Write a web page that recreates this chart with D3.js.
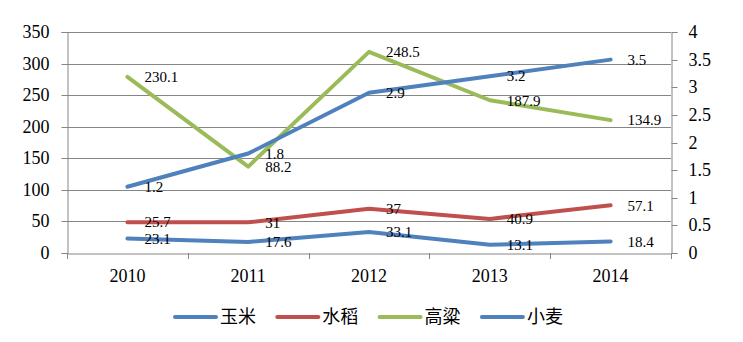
<!DOCTYPE html>
<html>
<head>
<meta charset="utf-8">
<script src="https://cdn.jsdelivr.net/npm/d3@7/dist/d3.min.js"></script>
<style>
  html, body { margin: 0; padding: 0; background: #fff; }
  svg { display: block; }
</style>
</head>
<body>
<svg id="chart" width="743" height="342"></svg>
<script>
// Years on the category axis
const years = ["2010", "2011", "2012", "2013", "2014"];

// 玉米 plotted on the secondary (right) axis
const yumi = [1.2, 1.8, 2.9, 3.2, 3.5];
// Stacked-line series on the primary (left) axis, bottom to top
const xiaomai = [23.1, 17.6, 33.1, 13.1, 18.4];
const shuidao = [25.7, 31, 37, 40.9, 57.1];
const gaoliang = [230.1, 88.2, 248.5, 187.9, 134.9];

const leftTicks = [0, 50, 100, 150, 200, 250, 300, 350];
const rightTicks = [0, 0.5, 1, 1.5, 2, 2.5, 3, 3.5, 4];
const legendNames = ["玉米", "水稻", "高粱", "小麦"];

const colors = { yumi: "#4F81BD", shuidao: "#C0504D", gaoliang: "#9BBB59", xiaomai: "#4F81BD" };

const svg = d3.select("#chart");
const plot = { left: 67, right: 671, top: 32, bottom: 253 };
const serif = "'Liberation Serif', 'Times New Roman', serif";
const gridColor = "#868686";

const x = d3.scaleBand().domain(years).range([plot.left, plot.right]);
const yL = d3.scaleLinear().domain([0, 350]).range([plot.bottom, plot.top]);
const yR = d3.scaleLinear().domain([0, 4]).range([plot.bottom, plot.top]);

// Gridlines
svg.append("g").selectAll("line").data(leftTicks.slice(1)).join("line")
  .attr("x1", plot.left).attr("x2", plot.right)
  .attr("y1", d => Math.round(yL(d)) + 0.5).attr("y2", d => Math.round(yL(d)) + 0.5)
  .attr("stroke", gridColor).attr("stroke-width", 1);

// Left axis
const leftAxis = svg.append("g")
  .attr("transform", `translate(${plot.left + 0.5},0)`)
  .call(d3.axisLeft(yL).tickValues(leftTicks).tickSize(6).tickPadding(12).tickFormat(d3.format("d")));
// Right axis
const rightAxis = svg.append("g")
  .attr("transform", `translate(${plot.right + 0.5},0)`)
  .call(d3.axisRight(yR).tickValues(rightTicks).tickSize(6).tickPadding(11).tickFormat(d => String(d)));
// Bottom axis with ticks at category boundaries
const bottomAxis = svg.append("g")
  .attr("transform", `translate(0,${plot.bottom + 0.5})`)
  .call(d3.axisBottom(x).tickSize(0).tickPadding(16));

[leftAxis, rightAxis, bottomAxis].forEach(g => {
  g.select(".domain").attr("stroke", gridColor);
  g.selectAll(".tick line").attr("stroke", gridColor);
  g.selectAll("text").attr("font-family", serif).attr("font-size", 18).attr("fill", "#000");
});
leftAxis.selectAll(".tick").attr("transform", d => `translate(0,${Math.round(yL(d)) + 0.5})`);
rightAxis.selectAll(".tick").attr("transform", d => `translate(0,${Math.round(yR(d)) + 0.5})`);

const bounds = years.map(y => x(y)).concat([plot.right]);
svg.append("g").selectAll("line").data(bounds).join("line")
  .attr("x1", d => Math.round(d) + 0.5).attr("x2", d => Math.round(d) + 0.5)
  .attr("y1", plot.bottom).attr("y2", plot.bottom + 6)
  .attr("stroke", gridColor);

// Stacked totals for the left-axis series
const stackXiaomai = xiaomai.slice();
const stackShuidao = shuidao.map((v, i) => v + stackXiaomai[i]);
const stackGaoliang = gaoliang.map((v, i) => v + stackShuidao[i]);

const cx = d => x(d) + x.bandwidth() / 2;
const lineGen = d3.line().curve(d3.curveLinear);

function drawLine(values, yScale, color) {
  svg.append("path")
    .attr("d", lineGen(values.map((v, i) => [cx(years[i]), yScale(v)])))
    .attr("fill", "none").attr("stroke", color).attr("stroke-width", 4)
    .attr("stroke-linejoin", "round").attr("stroke-linecap", "round");
}

drawLine(stackShuidao, yL, colors.shuidao);
drawLine(stackGaoliang, yL, colors.gaoliang);
drawLine(stackXiaomai, yL, colors.xiaomai);
drawLine(yumi, yR, colors.yumi);

// Data labels, placed to the right of each point
function drawLabels(values, positions, yScale) {
  svg.append("g").selectAll("text").data(values).join("text")
    .attr("x", (d, i) => cx(years[i]) + 17)
    .attr("y", (d, i) => yScale(positions[i]))
    .attr("dy", "0.35em")
    .attr("font-family", serif).attr("font-size", 15).attr("fill", "#000")
    .text(d => String(d));
}
drawLabels(shuidao, stackShuidao, yL);
drawLabels(gaoliang, stackGaoliang, yL);
drawLabels(xiaomai, stackXiaomai, yL);
drawLabels(yumi, yumi, yR);

// Legend
const legendColors = [colors.yumi, colors.shuidao, colors.gaoliang, colors.xiaomai];
const legend = svg.append("g").attr("transform", "translate(175,317)");
legendNames.forEach((name, i) => {
  const g = legend.append("g").attr("transform", `translate(${i * 102.3},0)`);
  g.append("line").attr("x1", 0).attr("x2", 41).attr("y1", 0).attr("y2", 0)
    .attr("stroke", legendColors[i]).attr("stroke-width", 4).attr("stroke-linecap", "round");
  g.append("text").attr("x", 45).attr("y", 0).attr("dy", "0.36em")
    .attr("font-family", "'Noto Sans CJK SC', sans-serif").attr("font-size", 18).attr("fill", "#000")
    .text(name);
});
</script>
</body>
</html>
